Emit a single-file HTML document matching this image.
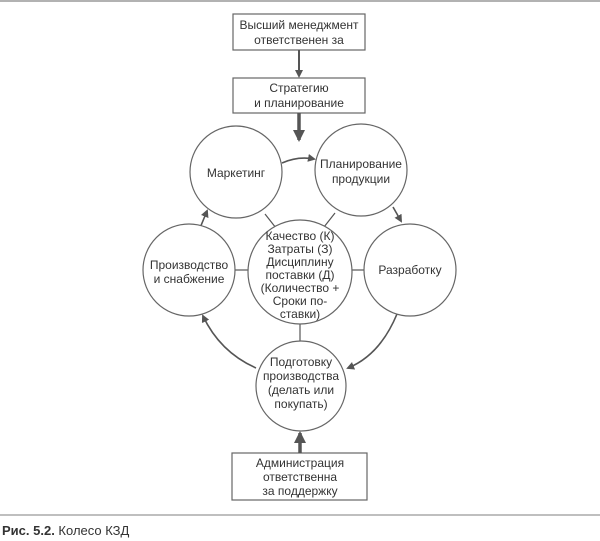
<!DOCTYPE html>
<html><head><meta charset="utf-8"><style>
html,body{margin:0;padding:0;background:#fff;}
svg{display:block}
text{font-family:"Liberation Sans",sans-serif;font-size:12px;fill:#333;text-anchor:middle}
</style></head><body>
<svg width="600" height="541" viewBox="0 0 600 541">
<defs>
<marker id="a" markerWidth="8" markerHeight="8" refX="6" refY="4" orient="auto" markerUnits="userSpaceOnUse"><path d="M0,0 L8,4 L0,8 Z" fill="#555"/></marker>
<marker id="b" markerWidth="12" markerHeight="12" refX="10" refY="6" orient="auto" markerUnits="userSpaceOnUse"><path d="M0,0 L12,6 L0,12 Z" fill="#555"/></marker>
</defs>
<line x1="0" y1="1" x2="600" y2="1" stroke="#999" stroke-width="1.5"/>
<g fill="#fff" stroke="#666" stroke-width="1.2">
<rect x="233" y="14" width="132" height="36"/>
<rect x="233" y="78" width="132" height="35"/>
<rect x="232" y="453" width="135" height="47"/>
</g>
<g stroke="#555" fill="none">
<line x1="299" y1="50" x2="299" y2="76" stroke-width="2" marker-end="url(#a)"/>
<line x1="299" y1="113" x2="299" y2="140" stroke-width="3.5" marker-end="url(#b)"/>
<line x1="300" y1="453" x2="300" y2="433" stroke-width="3.5" marker-end="url(#b)"/>
<line x1="265" y1="214" x2="276" y2="228" stroke-width="1.2"/>
<line x1="335" y1="213" x2="324" y2="227" stroke-width="1.2"/>
<line x1="235" y1="270" x2="248" y2="270" stroke-width="1.2"/>
<line x1="352" y1="270" x2="364" y2="270" stroke-width="1.2"/>
<line x1="300" y1="323" x2="300" y2="341" stroke-width="1.2"/>
<path d="M282,163 Q298,156 314,159" stroke-width="1.6" marker-end="url(#a)"/>
<path d="M393,207 L401,221" stroke-width="1.6" marker-end="url(#a)"/>
<path d="M397,314 Q380,355 348,368" stroke-width="1.6" marker-end="url(#a)"/>
<path d="M256,368 Q220,352 203,316" stroke-width="1.6" marker-end="url(#a)"/>
<path d="M200,228 L207,211" stroke-width="1.6" marker-end="url(#a)"/>
</g>
<g fill="#fff" stroke="#666" stroke-width="1.2">
<circle cx="236" cy="172" r="46"/>
<circle cx="361" cy="170" r="46"/>
<circle cx="300" cy="272" r="52"/>
<circle cx="189" cy="270" r="46"/>
<circle cx="410" cy="270" r="46"/>
<circle cx="301" cy="386" r="45"/>
</g>
<text x="299" y="29">Высший менеджмент</text>
<text x="299" y="44">ответственен за</text>
<text x="299" y="92">Стратегию</text>
<text x="299" y="107">и планирование</text>
<text x="236" y="177">Маркетинг</text>
<text x="361" y="168">Планирование</text>
<text x="361" y="183">продукции</text>
<text x="300" y="240">Качество (К)</text>
<text x="300" y="253">Затраты (З)</text>
<text x="300" y="266">Дисциплину</text>
<text x="300" y="279">поставки (Д)</text>
<text x="300" y="292">(Количество +</text>
<text x="300" y="305">Сроки по-</text>
<text x="300" y="318">ставки)</text>
<text x="189" y="269">Производство</text>
<text x="189" y="283">и снабжение</text>
<text x="410" y="274">Разработку</text>
<text x="301" y="366">Подготовку</text>
<text x="301" y="380">производства</text>
<text x="301" y="394">(делать или</text>
<text x="301" y="408">покупать)</text>
<text x="300" y="467">Администрация</text>
<text x="300" y="481">ответственна</text>
<text x="300" y="495">за поддержку</text>
<line x1="0" y1="515" x2="600" y2="515" stroke="#999" stroke-width="1.2"/>
<text x="2" y="535" style="text-anchor:start;font-size:13px;fill:#333"><tspan font-weight="bold">Рис. 5.2.</tspan> Колесо КЗД</text>
</svg>
</body></html>
